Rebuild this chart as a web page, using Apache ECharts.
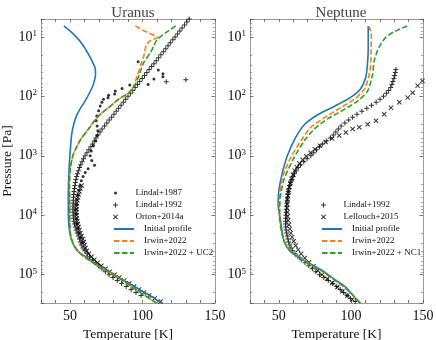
<!DOCTYPE html>
<html>
<head>
<meta charset="utf-8">
<script src="https://cdn.jsdelivr.net/npm/echarts@6/dist/echarts.min.js"></script>
<style>
  html, body { margin: 0; background: #fff; }
  #chart { width: 436px; height: 340px; }
</style>
</head>
<body>
<div id="chart"></div>
<script>
const FONT = '"Liberation Serif", "DejaVu Serif", serif';

// axis labels
const tempTicks = [50, 100, 150];

// ---------- Uranus ----------
const uInitT = [45.8, 50.0, 54.6, 59.0, 62.7, 65.5, 67.4, 67.6, 66.2, 63.5, 60.4, 57.3, 54.6, 52.6, 51.2, 50.0, 49.2, 48.8, 49.0, 50.3, 52.5, 56.0, 61.5, 66.5, 71.0, 75.5, 82.0, 88.0, 93.0, 100.0, 106.5, 113.7];
const uInitP = [6.53, 7.94, 10.2, 13.8, 19.5, 26.3, 33.9, 41.7, 61.7, 87.1, 120, 158, 209, 295, 427, 933, 2000, 5010, 12600, 22400, 31600, 41700, 51300, 63100, 74100, 85100, 107000, 129000, 151000, 191000, 234000, 309000];

const uIrwinT = [95.1, 102.0, 110.2, 105.0, 102.5, 101.5, 100.9, 98.6, 96.3, 94.0, 90.5, 83.5, 76.6, 69.7, 62.7, 57.5, 54.6, 52.0, 50.3, 49.6, 49.8, 49.8, 50.5, 53.0, 57.0, 61.0, 69.0, 77.0, 85.0, 93.0, 101.0, 110.2];
const uIrwinP = [6.53, 8.13, 10.2, 11.7, 14.1, 17.8, 20.9, 30.9, 45.7, 66.1, 87.1, 112, 155, 214, 355, 525, 708, 1000, 1580, 3160, 6310, 12600, 22400, 33100, 43700, 52500, 70800, 91200, 120000, 162000, 219000, 309000];

const uUC2T = [122.9, 116.0, 110.2, 107.8, 105.6, 100.9, 97.4, 95.1, 90.5, 83.5, 76.6, 69.7, 62.7, 57.5, 54.6, 52.0, 50.3, 49.6, 49.8, 49.8, 50.5, 53.0, 57.0, 61.0, 69.0, 77.0, 85.0, 93.0, 101.0, 110.2];
const uUC2P = [6.53, 8.51, 11.0, 14.1, 18.2, 26.9, 45.7, 61.7, 87.1, 112, 155, 214, 355, 525, 708, 1000, 1580, 3160, 6310, 12600, 22400, 33100, 43700, 52500, 70800, 91200, 120000, 162000, 219000, 309000];

const uLindal87T = [97.0, 110.9, 114.1, 114.1, 107.9, 103.9, 91.2, 85.9, 81.2, 80.8, 76.6, 76.2, 73.1, 72.0, 70.8, 69.7, 68.5, 68.0, 68.7, 69.2, 68.7, 67.8, 66.2, 64.6, 63.9, 65.0, 66.9, 62.5, 60.5, 59.0, 57.8, 56.8, 56.0, 55.3, 54.8, 54.4, 54.2, 54.2, 54.4, 54.8, 55.4, 56.2, 57.2, 58.5];
const uLindal87P = [26.3, 35.9, 41.7, 46.8, 51.3, 63.1, 64.6, 74.1, 81.3, 91.2, 95.5, 106, 112, 126, 145, 174, 214, 257, 316, 380, 457, 562, 676, 832, 1000, 1200, 1450, 1660, 1910, 2240, 2630, 3160, 3800, 4570, 5500, 6610, 7940, 9550, 11500, 13800, 16600, 20000, 24000, 28800];

const uLindal92T = [132.2, 130.6, 129.0, 127.3, 125.7, 124.1,
  122.5, 120.9, 119.2, 117.6, 116.0, 114.4, 112.7, 111.1, 109.5, 107.9, 106.3, 104.6, 103.0, 101.4, 99.8, 98.1, 96.5, 94.9, 93.3, 91.7,
  90.0, 88.4, 86.8, 85.2, 83.5, 81.9, 80.3, 78.7, 77.0, 75.4, 73.8, 72.1, 70.7, 69.2, 67.9, 66.7, 65.6, 64.4, 63.0, 61.7,
  60.4, 59.3, 58.3, 57.4, 56.6, 55.8, 55.2, 54.6, 54.1, 53.7, 53.4, 53.1, 52.8, 52.6, 52.4, 52.3, 52.2, 52.1, 52.1, 52.1,
  52.2, 52.4, 52.7, 53.1, 53.6, 54.2, 54.9, 55.7, 56.5, 57.1, 57.8, 59.0, 60.3, 61.8, 63.5, 65.4, 67.5, 69.7, 72.0, 74.4,
  77.0, 79.7, 82.6, 85.6, 88.8, 92.1, 95.5, 99.0,
  116.4, 129.9];
const uLindal92P = [5.01, 5.62, 6.31, 7.08, 7.94, 8.91,
  10.0, 11.2, 12.6, 14.1, 15.8, 17.8, 20.0, 22.4, 25.1, 28.2, 31.6, 35.5, 39.8, 44.7, 50.1, 56.2, 63.1, 70.8, 79.4, 89.1,
  100, 112, 126, 141, 158, 178, 200, 224, 251, 282, 316, 355, 398, 447, 501, 562, 631, 708, 794, 891,
  1000, 1120, 1260, 1410, 1580, 1780, 2000, 2240, 2510, 2820, 3160, 3550, 3980, 4470, 5010, 5620, 6310, 7080, 7940, 8910,
  10000, 11200, 12600, 14100, 15800, 17800, 20000, 22400, 25100, 28200, 31600, 35500, 39800, 44700, 50100, 56200, 63100, 70800, 79400, 89100,
  100000, 112000, 126000, 141000, 158000, 178000, 200000, 224000,
  57.0, 52.7];

const uOrtonT = [58.0, 57.2, 56.5, 55.9, 55.4, 55.0, 54.7, 54.5, 54.4, 54.4,
  54.5, 54.7, 55.0, 55.4, 55.9, 56.5, 57.2, 58.0, 58.9, 59.6, 60.1, 60.7, 61.6, 63.0, 64.8, 66.8, 69.0, 71.6, 74.5, 77.5,
  80.8, 84.0, 87.4, 90.8, 94.2, 97.6, 101.0, 104.6, 108.4, 112.6, 117.0];
const uOrtonP = [3160, 3550, 3980, 4470, 5010, 5620, 6310, 7080, 7940, 8910,
  10000, 11200, 12600, 14100, 15800, 17800, 20000, 22400, 25100, 28200, 31600, 35500, 39800, 44700, 50100, 56200, 63100, 70800, 79400, 89100,
  100000, 112000, 126000, 141000, 158000, 178000, 200000, 224000, 251000, 282000, 316000];

// ---------- Neptune ----------
const nInitT = [112.0, 112.0, 111.5, 110.3, 106.5, 99.5, 89.0, 77.5, 68.0, 61.7, 55.9, 52.3, 50.0, 49.5, 51.2, 53.5, 57.5, 63.9, 72.0, 80.1, 88.0, 96.3, 101.5, 106.7];
const nInitP = [6.53, 15.8, 28.2, 47.9, 75.9, 105, 145, 200, 295, 490, 1000, 2000, 3890, 6460, 12300, 26900, 39800, 51300, 66100, 85100, 117000, 162000, 224000, 309000];

const nIrwinT = [112.5, 114.2, 114.0, 113.9, 112.7, 109.3, 102.3, 93.0, 81.5, 72.2, 65.3, 58.3, 52.6, 50.5, 50.3, 51.5, 53.8, 58.0, 64.0, 72.0, 80.0, 88.0, 96.0, 101.5, 107.0];
const nIrwinP = [6.53, 9.55, 15.8, 25.1, 42.7, 75.9, 112, 155, 229, 331, 562, 1070, 2290, 5010, 10000, 17800, 28200, 39800, 51300, 67600, 87100, 120000, 166000, 224000, 309000];

const nNC1T = [139.1, 131.0, 124.1, 119.4, 116.2, 115.0, 111.6, 104.7, 95.4, 83.8, 74.5, 67.6, 60.6, 53.7, 51.0, 50.6, 51.8, 54.0, 58.0, 64.0, 72.0, 80.0, 88.0, 96.0, 101.5, 107.0];
const nNC1P = [6.53, 7.94, 10.2, 15.1, 25.1, 42.7, 81.3, 120, 166, 240, 355, 562, 1070, 2450, 5010, 10000, 17800, 28200, 39800, 51300, 67600, 87100, 120000, 166000, 224000, 309000];

const nLindal92T = [131.2, 130.8, 130.3, 129.8, 129.1, 128.4, 127.6, 126.2, 124.6,
  122.6, 120.2, 117.5, 114.3, 111.0, 107.6, 104.2, 101.2, 98.4, 95.8, 93.2, 91.3, 89.5, 87.8, 85.7, 82.9, 80.4, 78.2, 76.2, 74.2,
  72.2, 69.6, 67.3, 65.1, 63.4, 62.0, 60.8, 59.8, 59.0, 58.2, 57.5, 57.0, 56.6, 56.3, 56.0, 55.8, 55.6, 55.4, 55.2, 55.0,
  54.9, 54.8, 54.7, 54.7, 54.8, 55.0, 55.4, 55.8, 56.3, 56.8, 57.6, 58.5, 59.6, 61.2, 63.2, 65.6, 68.2, 70.8, 73.3, 75.7,
  78.2, 81.2, 84.3, 87.4, 90.2, 92.6, 95.0, 97.4, 99.6, 103.0];
const nLindal92P = [35.5, 39.8, 44.7, 50.1, 56.2, 63.1, 70.8, 79.4, 89.1,
  100, 112, 126, 141, 158, 178, 200, 224, 251, 282, 316, 355, 398, 447, 501, 562, 631, 708, 794, 891,
  1000, 1120, 1260, 1410, 1580, 1780, 2000, 2240, 2510, 2820, 3160, 3550, 3980, 4470, 5010, 5620, 6310, 7080, 7940, 8910,
  10000, 11200, 12600, 14100, 15800, 17800, 20000, 22400, 25100, 28200, 31600, 35500, 39800, 44700, 50100, 56200, 63100, 70800, 79400, 89100,
  100000, 112000, 126000, 141000, 158000, 178000, 200000, 224000, 251000, 282000];

const nLellouchT = [149.6, 146.3, 142.8, 139.4, 133.6, 127.8, 123.1, 117.4, 111.6, 105.8, 101.2, 96.5, 91.9, 87.0, 82.5, 78.5, 75.0, 72.0, 69.0, 66.5, 64.3, 62.5, 61.0, 59.8, 58.8, 58.0, 57.3, 56.7, 56.3, 56.0, 55.8, 55.8, 55.9, 56.1, 56.5, 57.0, 57.6, 58.3, 59.2, 60.3, 61.7, 63.4, 65.5, 68.0, 71.0, 74.0, 77.0, 80.0, 83.5, 87.0, 90.5, 94.0, 97.5, 101.0, 104.5];
const nLellouchP = [55.0, 66.1, 87.1, 105, 126, 155, 200, 257, 295, 331, 355, 407, 457, 513, 589, 676, 776, 891, 1020, 1170, 1350, 1550, 1780, 2090, 2450, 2880, 3390, 3980, 4680, 5500, 6460, 7590, 8910, 10500, 12300, 14500, 17000, 20000, 23400, 27500, 32400, 38000, 44700, 52500, 61700, 72400, 85100, 100000, 117000, 138000, 162000, 191000, 224000, 263000, 309000];

const COLORS = { init: '#1f77b4', irwin: '#ff7f0e', nc: '#2ca02c' };
const PLUS = 'path://M4,0H6V4H10V6H6V10H4V6H0V4H4Z';
const CROSS = 'path://M1.4,0L5,3.6L8.6,0L10,1.4L6.4,5L10,8.6L8.6,10L5,6.4L1.4,10L0,8.6L3.6,5L0,1.4Z';
// small dot inside a 10x10 box, so the legend draws it smaller than the box
const DOT_ICON = 'path://M0,0M10,10M5,2A3,3,0,1,1,5,8A3,3,0,1,1,5,2Z';

function pairs(t, p) { return t.map((v, i) => [v, p[i]]); }

function yLabel(v) {
  const e = Math.log10(v);
  if (Math.abs(e - Math.round(e)) > 1e-6) return '';
  return '{b|10}{s|' + Math.round(e) + '}';
}

const spine = { show: true, lineStyle: { color: '#9a9a9a', width: 1 } };
const tick = { show: true, inside: true, length: 3, lineStyle: { color: '#555', width: 0.8 } };

function xAxes(gi) {
  const base = { gridIndex: gi, type: 'value', min: 30, max: 150, interval: 10,
    axisLine: spine, axisTick: tick, splitLine: { show: false } };
  return [
    Object.assign({}, base, { position: 'bottom',
      axisLabel: { margin: 6, color: '#111', fontFamily: FONT, fontSize: 14,
        formatter: v => tempTicks.includes(v) ? String(v) : '' },
      name: 'Temperature [K]', nameLocation: 'middle', nameGap: 19,
      nameTextStyle: { fontFamily: FONT, fontSize: 13.5, color: '#111' } }),
    Object.assign({}, base, { position: 'top', axisLabel: { show: false } })
  ];
}

function yAxes(gi, withName) {
  const base = { gridIndex: gi, type: 'log', logBase: 10, min: 5, max: 3e5, inverse: true,
    axisLine: spine, axisTick: Object.assign({}, tick, { length: 3.5 }),
    minorTick: { show: true, splitNumber: 9, length: 2, lineStyle: { color: '#666', width: 0.6 } },
    splitLine: { show: false }, minorSplitLine: { show: false } };
  const left = Object.assign({}, base, { position: 'left',
    axisLabel: { margin: 4, color: '#111', fontFamily: FONT, formatter: yLabel,
      rich: { b: { fontSize: 14, fontFamily: FONT, color: '#111' },
              s: { fontSize: 9, fontFamily: FONT, color: '#111', padding: [0, 0, 7, 0] } } } });
  if (withName) {
    Object.assign(left, { name: 'Pressure [Pa]', nameLocation: 'middle', nameGap: 26,
      nameTextStyle: { fontFamily: FONT, fontSize: 13.5, color: '#111' } });
  }
  return [left, Object.assign({}, base, { position: 'right', axisLabel: { show: false } })];
}

function marks(name, t, p, ai, symbol, size) {
  return { name, type: 'scatter', xAxisIndex: ai, yAxisIndex: ai, data: pairs(t, p),
    symbol, symbolSize: size, itemStyle: { color: '#000' }, z: 2, silent: true };
}

function profile(name, t, p, ai, color, dashed) {
  return { name, type: 'line', xAxisIndex: ai, yAxisIndex: ai, data: pairs(t, p),
    symbol: 'none', smooth: 0.25, clip: true,
    lineStyle: { color, width: 1.6, type: dashed ? [5.5, 2.4] : 'solid' },
    itemStyle: { color }, z: 3, silent: true };
}

const legendText = { fontFamily: FONT, fontSize: 9, color: '#111', lineHeight: 12, padding: [0, 0, 0, 5] };
function markLegend(left, top, names) {
  return { left, top, orient: 'vertical', padding: 0, itemGap: 0, itemWidth: 20, itemHeight: 5,
    selectedMode: false, textStyle: legendText,
    data: names.map(n => n === 'Lindal+1987' ? { name: n, icon: DOT_ICON } : n) };
}
function lineLegend(left, top, names) {
  return { left, top, orient: 'vertical', padding: 0, itemGap: 0, itemWidth: 20, itemHeight: 6,
    selectedMode: false, textStyle: legendText, itemStyle: { opacity: 0 }, data: names };
}

const chart = echarts.init(document.getElementById('chart'), null, { renderer: 'canvas' });
chart.setOption({
  animation: false,
  backgroundColor: '#fff',
  title: [
    { text: 'Uranus', left: 128, top: 1, textAlign: 'center',
      textStyle: { fontFamily: FONT, fontSize: 15, fontWeight: 'normal', color: '#444' } },
    { text: 'Neptune', left: 336, top: 1, textAlign: 'center',
      textStyle: { fontFamily: FONT, fontSize: 15, fontWeight: 'normal', color: '#444' } }
  ],
  grid: [
    { left: 41, right: 221, top: 19, bottom: 37, outerBoundsMode: 'none' },
    { left: 250, right: 13, top: 19, bottom: 37, outerBoundsMode: 'none' }
  ],
  xAxis: [...xAxes(0), ...xAxes(1)],
  yAxis: [...yAxes(0, true), ...yAxes(1, false)],
  legend: [
    markLegend(113, 187, ['Lindal+1987', 'Lindal+1992', 'Orton+2014a']),
    lineLegend(113, 223, ['Initial profile', 'Irwin+2022', 'Irwin+2022 + UC2']),
    markLegend(321, 199, ['Lindal+1992', 'Lellouch+2015']),
    lineLegend(321, 223, ['Initial profile', 'Irwin+2022', 'Irwin+2022 + NC1'])
  ],
  series: [
    marks('Lindal+1987', uLindal87T, uLindal87P, 0, 'circle', 3),
    marks('Lindal+1992', uLindal92T, uLindal92P, 0, PLUS, 5),
    marks('Orton+2014a', uOrtonT, uOrtonP, 0, CROSS, 5),
    profile('Initial profile', uInitT, uInitP, 0, COLORS.init, false),
    profile('Irwin+2022', uIrwinT, uIrwinP, 0, COLORS.irwin, true),
    profile('Irwin+2022 + UC2', uUC2T, uUC2P, 0, COLORS.nc, true),

    marks('Lindal+1992', nLindal92T, nLindal92P, 2, PLUS, 5),
    marks('Lellouch+2015', nLellouchT, nLellouchP, 2, CROSS, 5),
    profile('Initial profile', nInitT, nInitP, 2, COLORS.init, false),
    profile('Irwin+2022', nIrwinT, nIrwinP, 2, COLORS.irwin, true),
    profile('Irwin+2022 + NC1', nNC1T, nNC1P, 2, COLORS.nc, true)
  ]
});
</script>
</body>
</html>
